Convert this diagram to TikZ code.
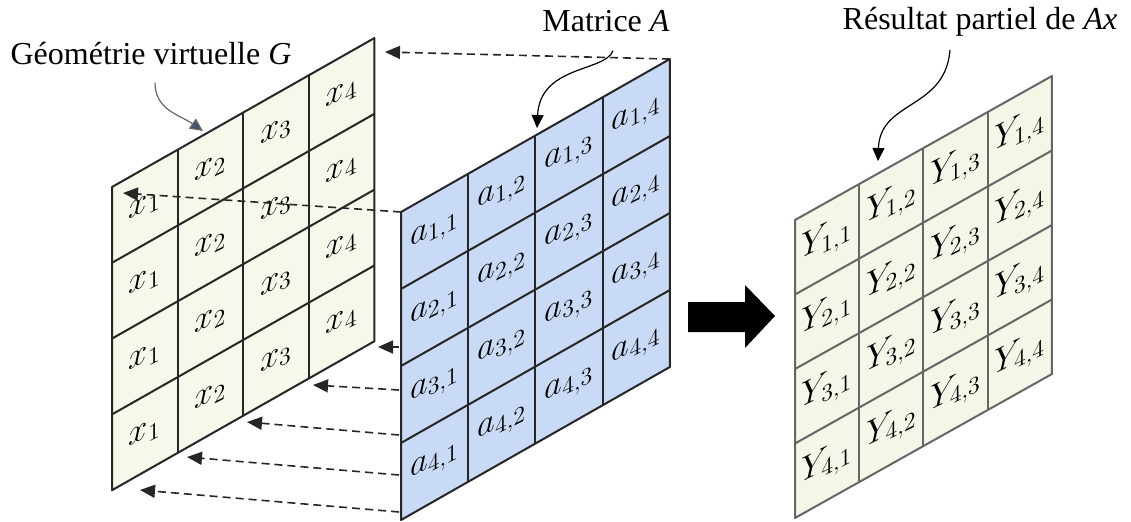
\documentclass[tikz,border=0pt]{standalone}
\usepackage{fontspec}
\setmainfont{Liberation Serif}
\usetikzlibrary{arrows.meta,calc}

\definecolor{geomfill}{HTML}{F6F8EC}
\definecolor{matfill}{HTML}{C8DAF6}
\definecolor{resfill}{HTML}{F4F6E8}
\definecolor{tipblue}{HTML}{46536E}

\tikzset{
  cellline/.style={line width=1pt, draw=black!85, line join=round},
  cellval/.style={font=\fontsize{17}{20}\selectfont, yslant=0.5, inner sep=0pt},
  caption/.style={font=\fontsize{16}{19}\selectfont, anchor=base, inner sep=0pt},
  copyarrow/.style={draw=black!85, line width=0.8pt, dash pattern=on 4pt off 2.5pt,
    -{Triangle[length=7.5pt,width=6.5pt]}},
  pointer/.style={line width=0.6pt, -{Triangle[length=6.5pt,width=6pt]}},
}

\begin{document}
\begin{tikzpicture}[x=0.5pt, y=-0.5pt]
\useasboundingbox (0,0) rectangle (1131,521);

% Geometrie virtuelle G
\begin{scope}[shift={(112,187)}, x={(32.8pt,18.62pt)}, y={(0pt,-37.9pt)}]
  \filldraw[cellline, fill=geomfill] (0,0) -- (4,0) -- (4,4) -- (0,4) -- cycle;
  \foreach \i in {1,2,3} {
    \draw[cellline] (\i,0) -- (\i,4);
    \draw[cellline] (0,\i) -- (4,\i);
  }
  \foreach \r in {0,...,4}
    \foreach \c in {0,...,4}
      \coordinate (G-\r-\c) at (\c,\r);
  \foreach \r in {1,...,4}
    \foreach \c in {1,...,4}
      \node[cellval] (g-\r-\c) at (\c-0.5,\r-0.5) {$x_{\c}$};
\end{scope}

% Matrice A
\begin{scope}[shift={(401,212)}, x={(33.6pt,19.12pt)}, y={(0pt,-38.5pt)}]
  \filldraw[cellline, fill=matfill] (0,0) -- (4,0) -- (4,4) -- (0,4) -- cycle;
  \foreach \i in {1,2,3} {
    \draw[cellline] (\i,0) -- (\i,4);
    \draw[cellline] (0,\i) -- (4,\i);
  }
  \foreach \r in {0,...,4}
    \foreach \c in {0,...,4}
      \coordinate (A-\r-\c) at (\c,\r);
  \foreach \r in {1,...,4}
    \foreach \c in {1,...,4}
      \node[cellval] (a-\r-\c) at (\c-0.5,\r-0.5) {$a_{\r,\c}$};
\end{scope}

% Resultat partiel
\begin{scope}[shift={(795,220)}, x={(32.12pt,18pt)}, y={(0pt,-37.25pt)}]
  \filldraw[cellline, draw=black!60, fill=resfill] (0,0) -- (4,0) -- (4,4) -- (0,4) -- cycle;
  \foreach \i in {1,2,3} {
    \draw[cellline, draw=black!60] (\i,0) -- (\i,4);
    \draw[cellline, draw=black!60] (0,\i) -- (4,\i);
  }
  \foreach \r in {0,...,4}
    \foreach \c in {0,...,4}
      \coordinate (Y-\r-\c) at (\c,\r);
  \foreach \r in {1,...,4}
    \foreach \c in {1,...,4}
      \node[cellval] (y-\r-\c) at (\c-0.5,\r-0.5) {$Y_{\r,\c}$};
\end{scope}

% copies de x
\coordinate (top) at (385,52);
\coordinate (first) at (123,193);
\draw[copyarrow] (A-0-4) -- (top);
\draw[copyarrow] (A-0-0) -- (first);
\foreach \sy/\tx/\ty [count=\k] in {347/378/347, 390/313/385, 435/247/422, 475/187/457, 512/140/490} {
  \coordinate (src\k) at (399,\sy);
  \coordinate (dst\k) at (\tx,\ty);
  \draw[copyarrow] (src\k) -- (dst\k);
}

% fleche
\fill[black] (688,302) -- (745,302) -- (745,285) -- (775,316) -- (745,348)
  -- (745,332) -- (688,332) -- cycle;

% legendes
\node[caption] (labG) at (151,64) {Géométrie virtuelle \textit{G}};
\node[caption] (labA) at (606,31) {Matrice \textit{A}};
\node[caption] (labY) at (980,29) {Résultat partiel de \textit{Ax}};

\coordinate (ptG) at (203,131);
\coordinate (ptA) at (537,128);
\coordinate (ptY) at (878,161);
\draw[pointer, draw=black!60, -{Triangle[length=6.5pt,width=6pt,fill=tipblue]}]
  ([shift={(4,18)}]labG.south) .. controls (155,110) and (180,115) .. (ptG);
\draw[pointer] ([shift={(7,19)}]labA.south) .. controls (605,72) and (540,65) .. (ptA);
\draw[pointer] ([shift={(-30,14)}]labY.south) .. controls (945,110) and (880,100) .. (ptY);
\end{tikzpicture}
\end{document}
